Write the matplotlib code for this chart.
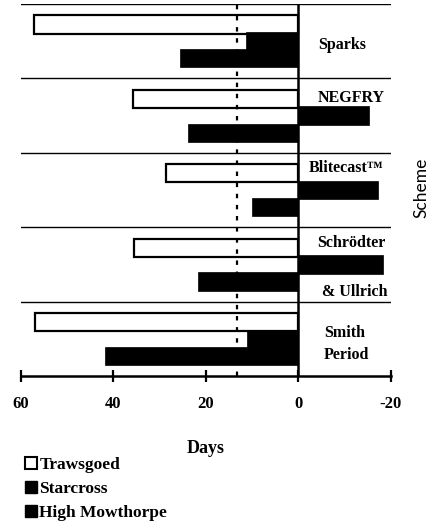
import matplotlib

matplotlib.use("Agg")
import matplotlib.pyplot as plt  # noqa: E402
import numpy as np  # noqa: E402
from matplotlib.patches import Patch  # noqa: E402

schemes = ["Sparks", "NEGFRY", "Blitecast™", "Schrödter\n& Ullrich", "Smith\nPeriod"]
trawsgoed = [57.2, 35.7, 28.6, 35.6, 57.0]
starcross = [11.3, -15.2, -17.2, -18.3, 11.1]
high_mowthorpe = [25.7, 23.9, 10.0, 21.8, 41.9]
threshold = 13.3
xticks = [60, 40, 20, 0, -20]

serif = "Liberation Serif"
lab_fs = 11.5

fig = plt.figure(figsize=(4.34, 5.28), dpi=100)
ax = fig.add_axes([21 / 434, 1 - 376 / 528, 370 / 434, 372 / 528])

y = np.arange(len(schemes))
h = 0.245
ax.barh(y - 0.225, trawsgoed, height=h, color="white", edgecolor="black", lw=1.6, zorder=2)
ax.barh(y, starcross, height=h, color="black", edgecolor="black", lw=0.5, zorder=2)
ax.barh(y + 0.23, high_mowthorpe, height=h, color="black", edgecolor="black", lw=0.5, zorder=2)

ax.set_xlim(60, -20)
ax.set_ylim(len(schemes) - 0.5, -0.5)

# group separators
for b in np.arange(len(schemes)) - 0.5:
    ax.axhline(b, color="black", lw=1.0, zorder=1)
ax.axvline(0, color="black", lw=1.8, zorder=3)
ax.axvline(threshold, color="black", lw=1.6, ls=(0, (2, 3)), zorder=3)


def label(x, yy, s):
    ax.text(x, yy, s, ha="center", va="center", fontsize=lab_fs,
            fontweight="bold", family=serif, zorder=4)


# scheme labels on the right of zero
label(-9.5, 0 + 0.05, schemes[0])
label(-11.5, 1 - 0.24, schemes[1])
label(-10.2, 2 - 0.3, schemes[2])
top, bottom = schemes[3].split("\n")
label(-11.5, 3 - 0.29, top)
label(-12.2, 3 + 0.37, bottom)
top, bottom = schemes[4].split("\n")
label(-10.0, 4 - 0.08, top)
label(-10.3, 4 + 0.22, bottom)

for s in ["left", "right", "top"]:
    ax.spines[s].set_visible(False)
ax.spines["bottom"].set_linewidth(1.8)
ax.set_yticks([])
ax.set_xticks(xticks)
ax.set_xticklabels([str(t) for t in xticks], fontsize=12, fontweight="bold", family=serif)
ax.tick_params(axis="x", direction="inout", length=9, width=1.6, pad=10)
ax.set_xlabel("Days", fontsize=13, fontweight="bold", family=serif, labelpad=20)

fig.text(421 / 434, 1 - 188 / 528, "Scheme", rotation=90, ha="center", va="center",
         fontsize=12.5, family="Lato")

handles = [
    Patch(facecolor="white", edgecolor="black", lw=1.5, label="Trawsgoed"),
    Patch(facecolor="black", edgecolor="black", label="Starcross"),
    Patch(facecolor="black", edgecolor="black", label="High Mowthorpe"),
]
fig.legend(handles=handles, loc="upper left", bbox_to_anchor=(25 / 434, 1 - 457 / 528),
           frameon=False, handlelength=0.7, handleheight=0.7, handletextpad=0.12,
           labelspacing=0.45, borderpad=0, borderaxespad=0,
           prop={"family": serif, "weight": "bold", "size": 12.5})

fig.savefig("out.png", dpi=100)
